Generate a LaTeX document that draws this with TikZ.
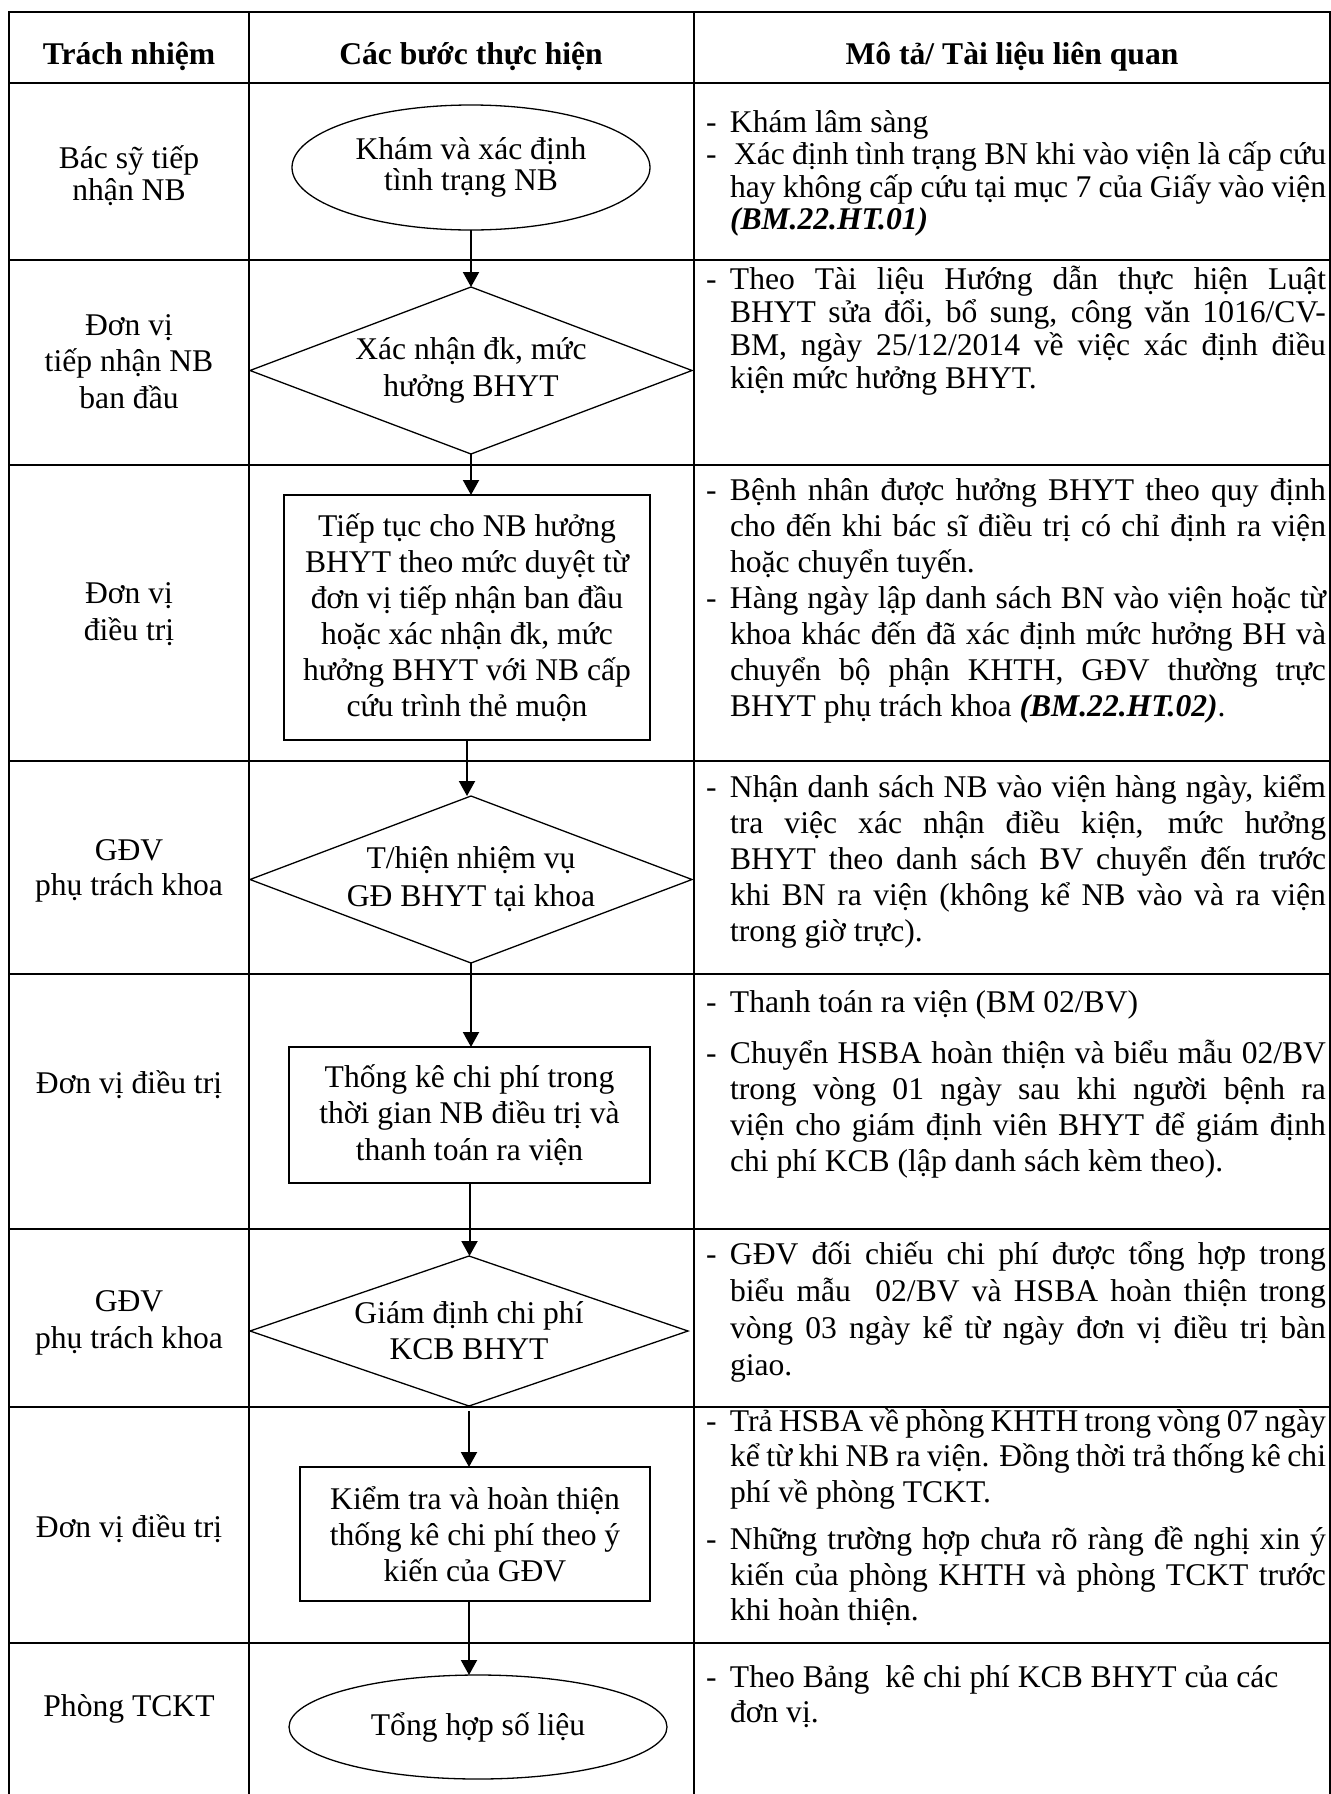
\documentclass[tikz,border=0pt]{standalone}
\usepackage{fontspec}
\setmainfont{Liberation Serif}
\usetikzlibrary{shapes.geometric,arrows.meta}
\setlength{\lineskiplimit}{-100pt}
\newcommand{\fs}[1]{\fontsize{15.8pt}{#1}\selectfont}
\newcommand{\tp}{\rule{0pt}{16pt}}
\newcommand{\dsh}{\makebox[12pt][l]{-}}
\newcommand{\ind}{\hspace*{12pt}}
\newcommand{\jl}[1]{\makebox[298pt][s]{#1}}
\newcommand{\bmref}[1]{\textbf{\textit{#1}}}

\begin{document}
\begin{tikzpicture}[x=0.5pt,y=-0.5pt,
    grid/.style={line width=1pt},
    lbl/.style={inner sep=0pt,outer sep=0pt,anchor=north,align=center,font=\fs{#1}},
    lbl/.default=18pt,
    desc/.style={inner sep=0pt,outer sep=0pt,anchor=north west,align=left,font=\fs{#1}},
    desc/.default=18pt,
    term/.style={ellipse,draw,line width=0.65pt,inner sep=0pt,outer sep=0pt,align=center,font=\fs{#1}},
    term/.default=18pt,
    decide/.style={diamond,aspect=2.65,draw,line width=0.65pt,inner sep=-4pt,outer sep=0pt,minimum width=221pt,minimum height=83.5pt,align=center,font=\fs{#1}},
    decide/.default=18pt,
    procbox/.style={rectangle,draw,line width=0.65pt,inner sep=0pt,outer sep=0pt,align=center,font=\fs{#1}},
    procbox/.default=18pt,
    arr/.style={line width=1pt,-{Triangle[width=8pt,length=7.5pt]}}]
        \useasboundingbox (0,0) rectangle (1331,1794);
        \draw[grid] (9,1794) -- (9,12) -- (1330,12) -- (1330,1794);
        \draw[grid] (249,12) -- (249,1794);
        \draw[grid] (694,12) -- (694,1794);
        \draw[grid] (9,83) -- (1330,83);
        \draw[grid] (9,260) -- (1330,260);
        \draw[grid] (9,465) -- (1330,465);
        \draw[grid] (9,761) -- (1330,761);
        \draw[grid] (9,974) -- (1330,974);
        \draw[grid] (9,1229) -- (1330,1229);
        \draw[grid] (9,1407) -- (1330,1407);
        \draw[grid] (9,1643) -- (1330,1643);

        \node[lbl] (h1) at (129,32) {\tp\bfseries Trách nhiệm};
        \node[lbl] (h2) at (471,32) {\tp\bfseries Các bước thực hiện};
        \node[lbl] (h3) at (1012,32) {\tp\bfseries Mô tả/ Tài liệu liên quan};

        \node[lbl=16pt] (r1) at (129,136) {\tp Bác sỹ tiếp\\nhận NB};
        \node[lbl=18.25pt] (r2) at (129,303) {\tp Đơn vị\\tiếp nhận NB\\ban đầu};
        \node[lbl=18.5pt] (r3) at (129,571) {\tp Đơn vị\\điều trị};
        \node[lbl=17.5pt] (r4) at (129,828) {\tp GĐV\\phụ trách khoa};
        \node[lbl] (r5) at (129,1061) {\tp Đơn vị điều trị};
        \node[lbl=18.5pt] (r6) at (129,1279) {\tp GĐV\\phụ trách khoa};
        \node[lbl] (r7) at (129,1505) {\tp Đơn vị điều trị};
        \node[lbl] (r8) at (129,1684) {\tp Phòng TCKT};

        \node[term=15.5pt,minimum width=179pt,minimum height=62.5pt] (kham) at (471,167.5) {Khám và xác định\\tình trạng NB};
        \node[decide=18.5pt] (xacnhan) at (471,370.5) {Xác nhận đk, mức\\hưởng BHYT};
        \node[procbox,minimum width=183pt,minimum height=122.5pt] (tieptuc) at (467,617.5) {Tiếp tục cho NB hưởng\\BHYT theo mức duyệt từ\\đơn vị tiếp nhận ban đầu\\hoặc xác nhận đk, mức\\hưởng BHYT với NB cấp\\cứu trình thẻ muộn};
        \node[decide=19pt] (gdkhoa) at (471,879.5) {T/hiện nhiệm vụ\\GĐ BHYT tại khoa};
        \node[procbox=18.25pt,minimum width=180.5pt,minimum height=68pt] (thongke) at (469.5,1115) {Thống kê chi phí trong\\thời gian NB điều trị và\\thanh toán ra viện};
        \node[decide,minimum width=219pt,minimum height=75pt] (giamdinh) at (469,1331) {Giám định chi phí\\KCB BHYT};
        \node[procbox,minimum width=175pt,minimum height=67pt] (kiemtra) at (475,1534) {Kiểm tra và hoàn thiện\\thống kê chi phí theo ý\\kiến của GĐV};
        \node[term,minimum width=189pt,minimum height=52pt] (tonghop) at (478,1727) {Tổng hợp số liệu};

        \draw[arr] (kham.south) -- (kham.south |- xacnhan.north);
        \draw[arr] (xacnhan.south) -- (xacnhan.south |- tieptuc.north);
        \draw[arr] (tieptuc.south) -- (tieptuc.south |- gdkhoa.north);
        \draw[arr] (gdkhoa.south) -- (gdkhoa.south |- thongke.north);
        \draw[arr] (thongke.south) -- (thongke.south |- giamdinh.north);
        \draw[arr] ([yshift=-2.5pt]giamdinh.south) -- (giamdinh.south |- kiemtra.north);
        \draw[arr] (kiemtra.south -| giamdinh.south) -- (giamdinh.south |- tonghop.north);

        \node[desc=16.25pt] (m1) at (706,100) {\tp\dsh Khám lâm sàng\\
            \dsh\jl{\hspace*{2pt}Xác định tình trạng BN khi vào viện là cấp cứu}\\
            \ind\jl{hay không cấp cứu tại mục 7 của Giấy vào viện}\\
            \ind\bmref{(BM.22.HT.01)}};
        \node[desc=16.5pt] (m2) at (706,257) {\tp\dsh\jl{Theo Tài liệu Hướng dẫn thực hiện Luật}\\
            \ind\jl{BHYT sửa đổi, bổ sung, công văn 1016/CV-}\\
            \ind\jl{BM, ngày 25/12/2014 về việc xác định điều}\\
            \ind kiện mức hưởng BHYT.};
        \node[desc] (m3) at (706,468) {\tp\dsh\jl{Bệnh nhân được hưởng BHYT theo quy định}\\
            \ind\jl{cho đến khi bác sĩ điều trị có chỉ định ra viện}\\
            \ind hoặc chuyển tuyến.\\
            \dsh\jl{Hàng ngày lập danh sách BN vào viện hoặc từ}\\
            \ind\jl{khoa khác đến đã xác định mức hưởng BH và}\\
            \ind\jl{chuyển bộ phận KHTH, GĐV thường trực}\\
            \ind BHYT phụ trách khoa \bmref{(BM.22.HT.02)}.};
        \node[desc] (m4) at (706,765) {\tp\dsh\jl{Nhận danh sách NB vào viện hàng ngày, kiểm}\\
            \ind\jl{tra việc xác nhận điều kiện, mức hưởng}\\
            \ind\jl{BHYT theo danh sách BV chuyển đến trước}\\
            \ind\jl{khi BN ra viện (không kể NB vào và ra viện}\\
            \ind trong giờ trực).};
        \node[desc] (m5) at (706,980) {\tp\dsh Thanh toán ra viện (BM 02/BV)\\[7.5pt]
            \dsh\jl{Chuyển HSBA hoàn thiện và biểu mẫu 02/BV}\\
            \ind\jl{trong vòng 01 ngày sau khi người bệnh ra}\\
            \ind\jl{viện cho giám định viên BHYT để giám định}\\
            \ind chi phí KCB (lập danh sách kèm theo).};
        \node[desc=18.5pt] (m6) at (706,1232) {\tp\dsh\jl{GĐV đối chiếu chi phí được tổng hợp trong}\\
            \ind\jl{biểu mẫu\ \ 02/BV và HSBA hoàn thiện trong}\\
            \ind\jl{vòng 03 ngày kể từ ngày đơn vị điều trị bàn}\\
            \ind giao.};
        \node[desc=17.75pt] (m7) at (706,1399) {\tp\dsh\jl{Trả HSBA về phòng KHTH trong vòng 07 ngày}\\
            \ind\jl{kể từ khi NB ra viện. Đồng thời trả thống kê chi}\\
            \ind phí về phòng TCKT.\\[6pt]
            \dsh\jl{Những trường hợp chưa rõ ràng đề nghị xin ý}\\
            \ind\jl{kiến của phòng KHTH và phòng TCKT trước}\\
            \ind khi hoàn thiện.};
        \node[desc=17.5pt] (m8) at (706,1655) {\tp\dsh Theo Bảng\ \ kê chi phí KCB BHYT của các\\
            \ind đơn vị.};
    \end{tikzpicture}
\end{document}
